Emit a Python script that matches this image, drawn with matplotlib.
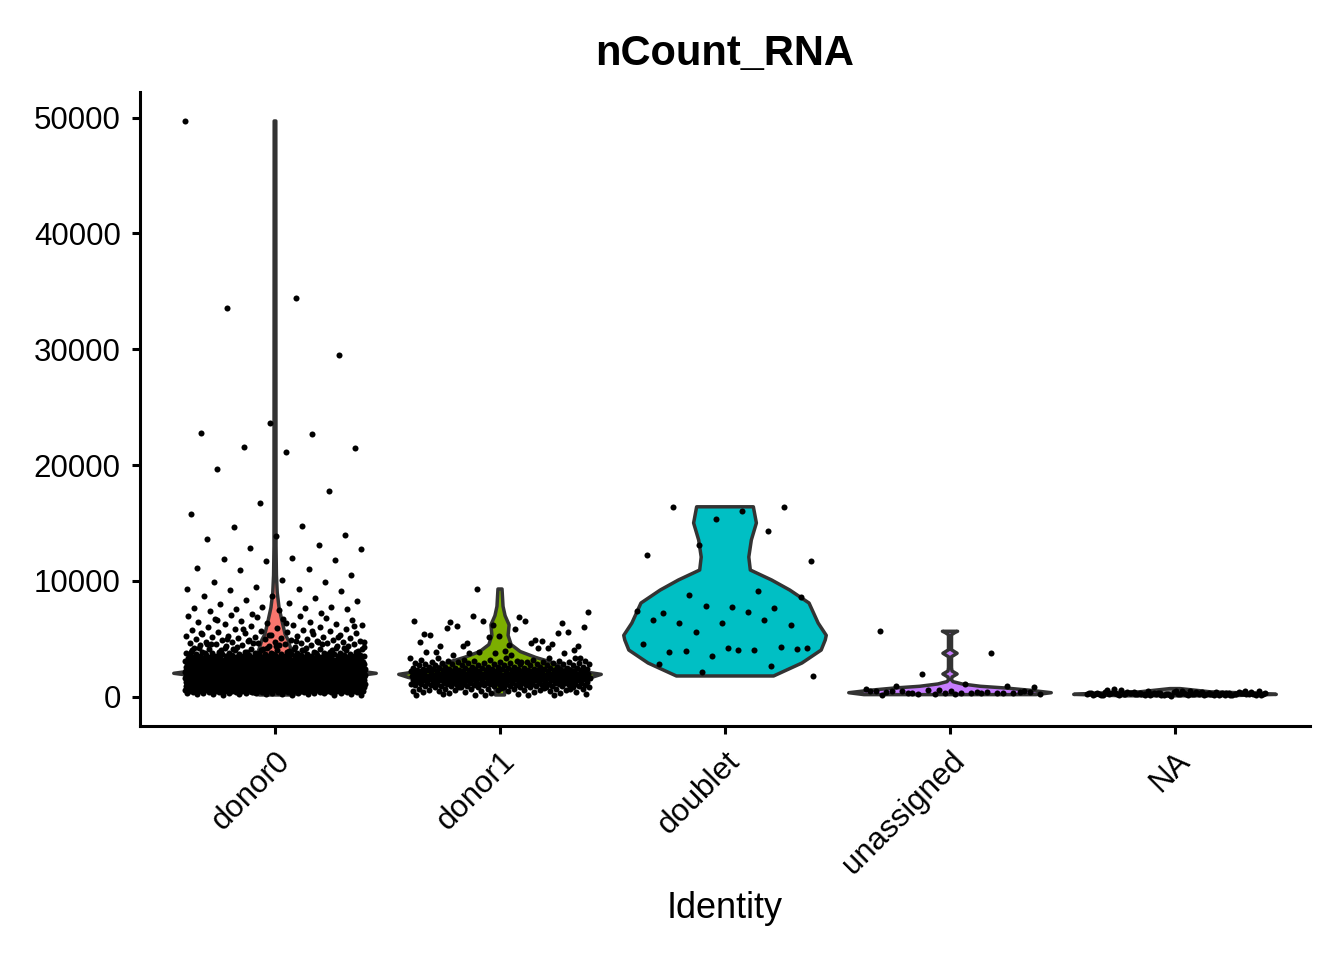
import numpy as np
import matplotlib
matplotlib.use("Agg")
import matplotlib.pyplot as plt

plt.rcParams['font.family'] = ['Liberation Sans', 'DejaVu Sans']

# ---------------- data ----------------
categories = ['donor0', 'donor1', 'doublet', 'unassigned', 'NA']
fill_colors = ['#F8766D', '#7CAE00', '#00BFC4', '#C77CFF', '#7F7F7F']
yticks = [0, 10000, 20000, 30000, 40000, 50000]
title = 'nCount_RNA'
xlabel = 'Identity'

# violin outlines: value -> relative half width (1 = widest)
d0_prof_y = [150, 500, 900, 1300, 1600, 1850, 2020, 2200, 2450, 2700, 2950, 3300, 3800,
             4300, 4900, 5400, 6500, 7700, 9000, 10500, 13000, 49715]
d0_prof_w = [0.15, 0.35, 0.48, 0.52, 0.57, 0.85, 1.0, 0.85, 0.72, 0.45, 0.3, 0.21, 0.17,
             0.15, 0.13, 0.1, 0.07, 0.04, 0.022, 0.014, 0.01, 0.008]
d1_prof_y = [150, 900, 1150, 1300, 1450, 1650, 1930, 2200, 2600, 3000, 3400, 3900, 4500,
             5300, 6200, 7000, 7800, 9300]
d1_prof_w = [0.045, 0.05, 0.1, 0.42, 0.78, 0.9, 1.0, 0.8, 0.6, 0.5, 0.35, 0.2, 0.11,
             0.08, 0.09, 0.05, 0.03, 0.02]
db_prof_y = [1790, 2910, 4030, 4900, 5300, 6360, 8090, 9210, 10080, 10940, 12060, 13530,
             15000, 16400]
db_prof_w = [0.48, 0.76, 0.95, 0.99, 1.0, 0.92, 0.83, 0.64, 0.46, 0.25, 0.235, 0.26,
             0.31, 0.28]
un_prof_y = [180, 345, 550, 750, 900, 1100, 1300, 1450, 1700, 1960, 2220, 2500, 3450,
             3750, 4050, 5350, 5550, 5650]
un_prof_w = [0.85, 1.0, 0.8, 0.55, 0.3, 0.12, 0.03, 0.015, 0.02, 0.07, 0.02, 0.015, 0.015,
             0.07, 0.015, 0.015, 0.05, 0.075]
na_prof_y = [80, 200, 300, 420, 560, 700]
na_prof_w = [0.5, 1.0, 0.8, 0.35, 0.2, 0.05]

# cells: individually readable values
d0_points = [49715, 34430, 33570, 29510, 23640, 22770, 22690, 21560, 21480, 21130, 19660,
             17760, 16730, 15780, 14740, 14650, 13960, 13880, 13620, 13100, 12840, 12750,
             12000, 11890, 11800, 11720, 11110, 11030, 10940, 10510, 10080, 9900, 9900,
             9470, 9300, 9300, 9210, 9130, 8700, 8700, 8520, 8350, 8260, 8090, 8000, 7750,
             7750, 7660, 7660, 7570, 7570, 7490, 7400, 7230, 7140,
             4310, 4330, 4390, 4400, 4420, 4460, 4480, 4490, 4530, 4550, 4570, 4600, 4620,
             4640, 4660, 4690, 4710, 4740, 4750, 4780, 4810, 4830, 4870, 4880, 4920, 4950,
             4960, 5010, 5030, 5070, 5090, 5120, 5160, 5190, 5230, 5260, 5280, 5330, 5350,
             5390, 5440, 5470, 5520, 5560, 5590, 5640, 5690, 5720, 5780, 5830, 5870, 5910,
             5990, 6030, 6080, 6150, 6190, 6260, 6310, 6380, 6420, 6490, 6560, 6610, 6690,
             6740, 6830, 6870, 6950, 7010, 7080,
             3620, 3680, 3740, 3790, 3850, 3910, 3960, 4020, 4070, 4130, 4180, 4240, 4290,
             4350, 4430, 4510, 4580, 4670, 4760, 4850, 4990, 5140, 5300, 5480, 5660, 5860,
             6100, 6340, 6600, 3650, 3770, 3880, 3990, 4110, 4220, 4370, 4540, 4720, 4910]
# dense mass: value level and number of cells at that level (estimated)
d0_bulk_vals = [150, 200, 300, 400, 500, 600, 700, 800, 900, 1000, 1100, 1200, 1300, 1400,
                1500, 1600, 1700, 1800, 1900, 2000, 2100, 2200, 2300, 2400, 2500, 2600,
                2700, 2800, 2900, 3000, 3100, 3200, 3300, 3400, 3500, 3600, 3700, 3800,
                3900, 4000, 4100, 4200]
d0_bulk_counts = [4, 7, 10, 13, 17, 21, 25, 29, 33, 37, 40, 42, 44, 46, 48, 50, 50, 50, 50,
                  48, 48, 46, 44, 42, 40, 37, 34, 31, 28, 25, 22, 19, 16, 14, 12, 10, 9,
                  8, 7, 6, 5, 4]

d1_points = [9300, 7310, 6880, 6450, 6360, 6190, 5410, 4900, 4640, 4380, 4460, 4380, 4550,
             6540, 6540, 6540, 6110, 5590, 5240, 5330, 4810, 6970, 6020, 5850, 5930, 5500,
             5160, 4720, 4640, 4380, 4030, 3950, 3860, 4210, 3860, 3340, 3000, 3600, 3770,
             3770, 3860, 4210, 3770, 3340, 3600, 230, 150, 150, 160, 150, 840, 660, 750,
             1180, 750]
d1_bulk_vals = [150, 200, 300, 400, 500, 600, 700, 800, 900, 1000, 1100, 1200, 1300, 1400,
                1500, 1600, 1700, 1800, 1900, 2000, 2100, 2200, 2300, 2400, 2500, 2600,
                2700, 2800, 2900, 3000, 3100, 3200, 3300]
d1_bulk_counts = [1, 2, 3, 4, 5, 6, 7, 9, 10, 11, 12, 12, 13, 13, 14, 14, 14, 14, 14, 14,
                  13, 13, 12, 11, 10, 9, 8, 7, 7, 6, 5, 4, 4]

db_points = [14340, 13100, 11740, 16060, 16400, 16360, 15320, 12210, 9150, 8760, 8640, 7720,
             7200, 7690, 7830, 7430, 7290, 6360, 6190, 6360, 6600, 6620, 5610, 4210, 4030,
             3860, 4270, 3540, 4550, 4030, 3970, 4120, 4180, 2820, 2650, 2160, 1790]

un_points = [5650, 3750, 1960, 860, 1100, 920, 920, 600, 450, 300, 350, 500, 250, 400, 300,
             550, 200, 350, 450, 280, 320, 480, 380, 260, 420, 340, 500, 300, 230, 640, 370,
             290, 410, 520, 180]

na_points = [90, 110, 130, 140, 150, 160, 165, 170, 180, 185, 190, 195, 200, 205, 210, 215,
             220, 225, 230, 235, 240, 245, 250, 255, 260, 270, 280, 290, 300, 310, 320, 330,
             345, 360, 380, 400, 420, 450, 480, 520, 560, 140, 175, 195, 210, 230, 250, 265,
             285, 300, 330, 350, 370, 410, 440, 160, 185, 205, 220, 240, 260, 275, 295, 320,
             340, 390, 430, 470, 500, 600, 120, 155, 180, 200, 215, 235, 255, 280, 310, 360,
             410, 530, 650, 175, 210, 245, 270, 305, 350]

# ---------------- figure ----------------
fig = plt.figure(figsize=(13.44, 9.6), dpi=100)
ax = fig.add_axes([140 / 1344, (960 - 725.7) / 960, (1310 - 140) / 1344, (725.7 - 91.7) / 960])

profiles = [(d0_prof_y, d0_prof_w), (d1_prof_y, d1_prof_w), (db_prof_y, db_prof_w),
            (un_prof_y, un_prof_w), (na_prof_y, na_prof_w)]
half = 0.45
for i, ((py, pw), col) in enumerate(zip(profiles, fill_colors)):
    c = i + 1
    py = np.asarray(py, float)
    pw = np.asarray(pw, float) * half
    xs = np.concatenate([c - pw, (c + pw)[::-1]])
    ys = np.concatenate([py, py[::-1]])
    ax.fill(xs, ys, facecolor=col, edgecolor='#333333', linewidth=2.5, zorder=2,
            joinstyle='round')

groups = [
    np.concatenate([d0_points, np.repeat(d0_bulk_vals, d0_bulk_counts)]),
    np.concatenate([d1_points, np.repeat(d1_bulk_vals, d1_bulk_counts)]),
    np.asarray(db_points, float),
    np.asarray(un_points, float),
    np.asarray(na_points, float),
]
phi = (np.sqrt(5) - 1) / 2
for i, vals in enumerate(groups):
    k = np.arange(len(vals))
    jit = ((k * phi + 0.37 * i) % 1.0) * 2 - 1
    ax.scatter(i + 1 + 0.4 * jit, vals, s=19, color='black', linewidths=0, zorder=3)

ax.set_xlim(0.4, 5.6)
ax.set_ylim(-2504, 52245)
ax.set_xticks(range(1, len(categories) + 1))
ax.set_xticklabels(categories, rotation=45, ha='right', va='top', rotation_mode='anchor')
ax.set_yticks(yticks)
ax.set_yticklabels([str(v) for v in yticks])

for s in ['top', 'right']:
    ax.spines[s].set_visible(False)
for s in ['left', 'bottom']:
    ax.spines[s].set_linewidth(2.2)
    ax.spines[s].set_color('black')
ax.tick_params(axis='both', length=5.8, width=2.2, color='black', labelsize=22.5,
               labelcolor='black')
ax.tick_params(axis='y', pad=8)
ax.tick_params(axis='x', pad=9)

ax.set_title(title, fontsize=30, fontweight='bold', pad=19)
ax.set_xlabel(xlabel, fontsize=26)
ax.xaxis.set_label_coords(0.5, -0.2607)
ax.xaxis.label.set_va('top')

fig.savefig('out.png', dpi=100)
